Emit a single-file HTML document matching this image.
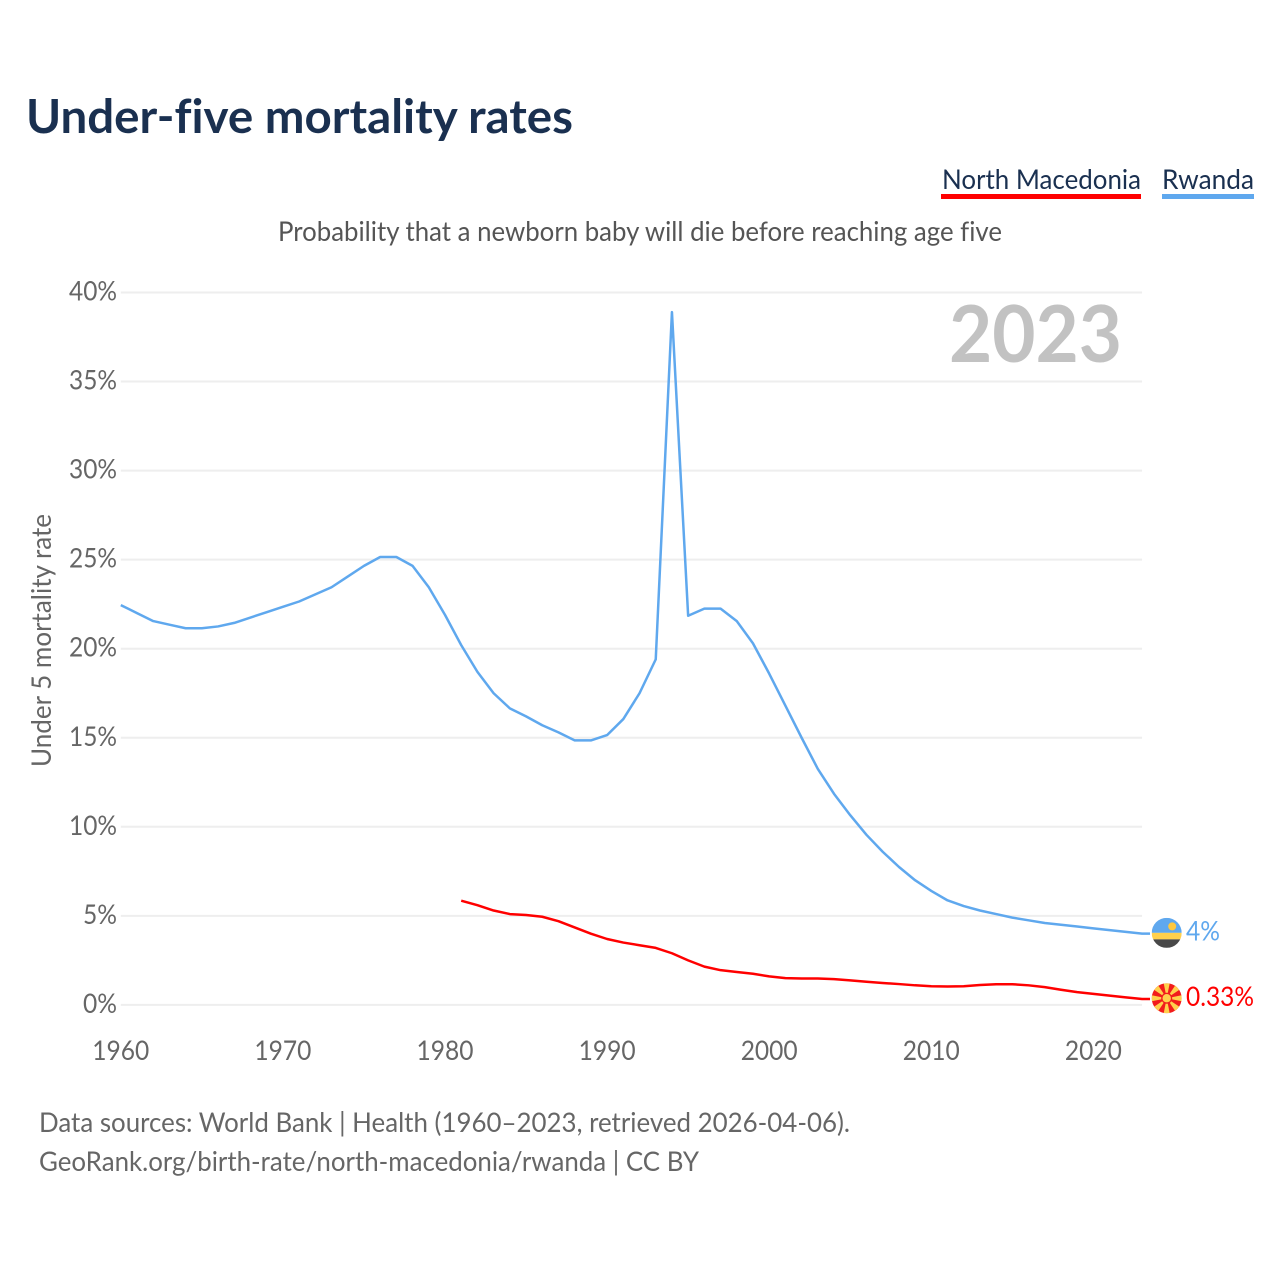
<!DOCTYPE html>
<html lang="en">
<head>
<meta charset="utf-8">
<title>Under-five mortality rates</title>
<style>
html,body{margin:0;padding:0;background:#fff}
svg{display:block}
text{font-family:"Lato","Carlito","Liberation Sans",sans-serif;font-variant-ligatures:none;font-feature-settings:"liga" 0}
</style>
</head>
<body>
<svg id="chart" width="1280" height="1280" viewBox="0 0 1280 1280" xmlns="http://www.w3.org/2000/svg">
  <text x="26" y="133" font-size="46.5" font-weight="700" fill="#1a3050" textLength="547" lengthAdjust="spacingAndGlyphs">Under-five mortality rates</text>
  <g>
    <g>
      <text x="942" y="189" font-size="27.5" fill="#1a3050" textLength="199" lengthAdjust="spacingAndGlyphs">North Macedonia</text>
      <rect x="941" y="194" width="200" height="5" fill="#ff0000"/>
    </g>
    <g>
      <text x="1162" y="189" font-size="27.5" fill="#1a3050" textLength="92" lengthAdjust="spacingAndGlyphs">Rwanda</text>
      <rect x="1162" y="194" width="92" height="5" fill="#5fa8ee"/>
    </g>
  </g>
  <text x="278" y="241" font-size="27.5" fill="#555" textLength="724" lengthAdjust="spacingAndGlyphs">Probability that a newborn baby will die before reaching age five</text>
  <text transform="translate(51,767) rotate(-90)" font-size="27.5" fill="#666" textLength="253" lengthAdjust="spacingAndGlyphs">Under 5 mortality rate</text>
  <g id="grid"></g>
  <g id="yticks"></g>
  <g id="xticks"></g>
  <text x="949" y="362" font-size="79" font-weight="700" fill="#c2c2c2" textLength="173" lengthAdjust="spacingAndGlyphs">2023</text>
  <path id="line-rwanda" fill="none" stroke="#5fa8ee" stroke-width="2.5" stroke-linejoin="round"/>
  <path id="line-mk" fill="none" stroke="#ff0000" stroke-width="2.5" stroke-linejoin="round"/>
  <g id="flag-rwanda">
    <clipPath id="clip-rw"><circle cx="0" cy="0" r="15"/></clipPath>
    <g clip-path="url(#clip-rw)">
      <rect x="-15" y="-15" width="30" height="15" fill="#5fa8ee"/>
      <rect x="-15" y="0" width="30" height="6.5" fill="#ffd04d"/>
      <rect x="-15" y="6.5" width="30" height="8.5" fill="#484848"/>
      <circle cx="5.5" cy="-6.5" r="4" fill="#ffc83d"/>
    </g>
  </g>
  <g id="flag-mk">
    <clipPath id="clip-mk"><circle cx="0" cy="0" r="15"/></clipPath>
    <g clip-path="url(#clip-mk)">
      <rect x="-15" y="-15" width="30" height="30" fill="#f21c1c"/>
      <g fill="#ffd04d">
        <path d="M-3 -15L3 -15L0 0Z"/>
        <path d="M-3 -15L3 -15L0 0Z" transform="rotate(45)"/>
        <path d="M-3 -15L3 -15L0 0Z" transform="rotate(90)"/>
        <path d="M-3 -15L3 -15L0 0Z" transform="rotate(135)"/>
        <path d="M-3 -15L3 -15L0 0Z" transform="rotate(180)"/>
        <path d="M-3 -15L3 -15L0 0Z" transform="rotate(225)"/>
        <path d="M-3 -15L3 -15L0 0Z" transform="rotate(270)"/>
        <path d="M-3 -15L3 -15L0 0Z" transform="rotate(315)"/>
      </g>
      <circle cx="0" cy="0" r="5.5" fill="#f21c1c"/>
      <circle cx="0" cy="0" r="4.2" fill="#ffd04d"/>
    </g>
  </g>
  <text id="label-rwanda" x="1186" font-size="27.5" fill="#5fa8ee" textLength="34" lengthAdjust="spacingAndGlyphs"></text>
  <text id="label-mk" x="1186" font-size="27.5" fill="#ff0000" textLength="68" lengthAdjust="spacingAndGlyphs"></text>
  <text x="39" y="1132" font-size="27.5" fill="#666" textLength="811" lengthAdjust="spacingAndGlyphs">Data sources: World Bank | Health (1960–2023, retrieved 2026-04-06).</text>
  <text x="39" y="1171" font-size="27.5" fill="#666" textLength="660" lengthAdjust="spacingAndGlyphs">GeoRank.org/birth-rate/north-macedonia/rwanda | CC BY</text>
</svg>
<script>
const yTickValues = [0, 5, 10, 15, 20, 25, 30, 35, 40];
const xTickValues = [1960, 1970, 1980, 1990, 2000, 2010, 2020];
const rwandaStartYear = 1960;
const rwandaValues = [22.45, 22.0, 21.55, 21.35, 21.15, 21.15, 21.25, 21.45, 21.75, 22.05,
  22.35, 22.65, 23.05, 23.45, 24.05, 24.65, 25.15, 25.15, 24.65, 23.45,
  21.9, 20.2, 18.7, 17.5, 16.65, 16.2, 15.7, 15.3, 14.85, 14.85,
  15.15, 16.05, 17.5, 19.4, 38.9, 21.85, 22.25, 22.25, 21.55, 20.3,
  18.6, 16.8, 15.0, 13.25, 11.85, 10.65, 9.55, 8.6, 7.75, 7.0,
  6.4, 5.87, 5.55, 5.3, 5.1, 4.9, 4.75, 4.6, 4.5, 4.4,
  4.3, 4.2, 4.1, 4.0];
const macedoniaStartYear = 1981;
const macedoniaValues = [5.85, 5.6, 5.3, 5.1, 5.05, 4.95, 4.7, 4.35, 4.0,
  3.7, 3.5, 3.35, 3.2, 2.9, 2.5, 2.15, 1.95, 1.85, 1.75,
  1.6, 1.5, 1.48, 1.48, 1.45, 1.38, 1.3, 1.23, 1.17, 1.1,
  1.05, 1.03, 1.05, 1.12, 1.16, 1.16, 1.1, 1.0, 0.85, 0.72,
  0.62, 0.52, 0.42, 0.33];
const rwandaLabel = "4%";
const macedoniaLabel = "0.33%";

const xScale = function (year) { return 120.8 + (year - 1960) * 16.21; };
const yScale = function (pct) { return 1004.9 - pct * 17.81; };
const NS = "http://www.w3.org/2000/svg";

const grid = document.getElementById("grid");
const yticks = document.getElementById("yticks");
const xticks = document.getElementById("xticks");

yTickValues.forEach(function (v) {
  const line = document.createElementNS(NS, "line");
  
  
  line.setAttribute("x1", xScale(1960));
  line.setAttribute("x2", xScale(2023));
  line.setAttribute("y1", yScale(v));
  line.setAttribute("y2", yScale(v));
  line.setAttribute("stroke", "#eeeeee");
  line.setAttribute("stroke-width", "2");
  grid.appendChild(line);

  const t = document.createElementNS(NS, "text");
  
  
  t.setAttribute("x", 117);
  t.setAttribute("y", yScale(v) + 8);
  t.setAttribute("text-anchor", "end");
  t.setAttribute("font-size", "27.5");
  t.setAttribute("fill", "#666");
  t.setAttribute("textLength", v >= 10 ? 48 : 34);
  t.setAttribute("lengthAdjust", "spacingAndGlyphs");
  t.textContent = v + "%";
  yticks.appendChild(t);
});

xTickValues.forEach(function (v) {
  const t = document.createElementNS(NS, "text");
  
  
  t.setAttribute("x", xScale(v));
  t.setAttribute("y", 1060);
  t.setAttribute("text-anchor", "middle");
  t.setAttribute("font-size", "27.5");
  t.setAttribute("fill", "#666");
  t.setAttribute("textLength", 57);
  t.setAttribute("lengthAdjust", "spacingAndGlyphs");
  t.textContent = v;
  xticks.appendChild(t);
});

function linePath(startYear, values) {
  return values.map(function (v, i) {
    return (i ? "L" : "M") + xScale(startYear + i).toFixed(2) + " " + yScale(v).toFixed(2);
  }).join("");
}

function lastY(values) { return yScale(values[values.length - 1]); }

const endExtension = 8;
document.getElementById("line-rwanda").setAttribute("d",
  linePath(rwandaStartYear, rwandaValues) + "h" + endExtension);
document.getElementById("line-mk").setAttribute("d",
  linePath(macedoniaStartYear, macedoniaValues) + "h" + endExtension);

const flagX = 1166.7;
document.getElementById("flag-rwanda").setAttribute("transform", "translate(" + flagX + "," + (lastY(rwandaValues) - 0.8) + ")");
document.getElementById("flag-mk").setAttribute("transform", "translate(" + flagX + "," + (lastY(macedoniaValues) - 0.8) + ")");

const rwLabel = document.getElementById("label-rwanda");
rwLabel.textContent = rwandaLabel;
rwLabel.setAttribute("y", lastY(rwandaValues) + 7);
const mkLabel = document.getElementById("label-mk");
mkLabel.textContent = macedoniaLabel;
mkLabel.setAttribute("y", lastY(macedoniaValues) + 7);
</script>
</body>
</html>
